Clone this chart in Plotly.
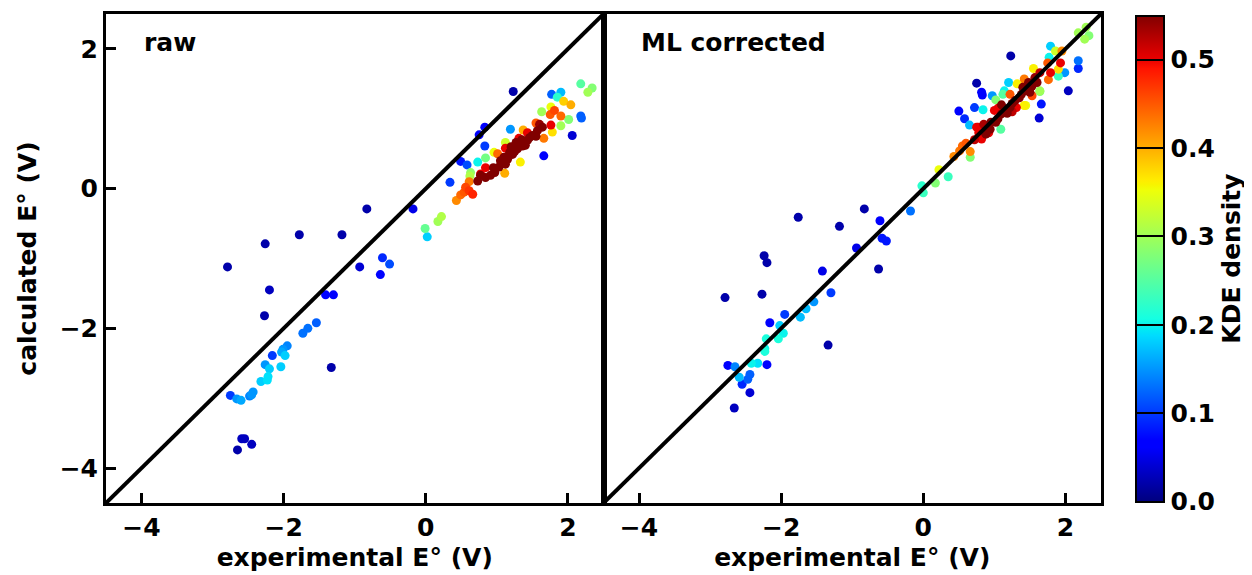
import plotly.graph_objects as go
from plotly.subplots import make_subplots

# raw panel: experimental, calculated, KDE density
raw_x = [-2.79, -2.26, -2.20, -2.27, -1.78, -1.18, -0.83, -0.93, -1.33, -0.18, 1.23, 2.06, 1.66,
         -2.59, -2.55, -2.45, -2.65,
         -1.41, -1.30, -0.61, -0.51, -0.64, -1.73, -1.66, -1.54, -1.95, -2.01, -2.03, -1.98, -2.16,
         -2.26, -2.20, -2.22, -2.23, -2.32, -2.04, -2.43, -2.45, -2.48, -2.75, -2.66, -2.60,
         0.34, 0.49, 0.58, 0.75, 0.83, 0.83, 0.73, 0.84, 0.63, 0.62, -0.01, 0.02, 0.17, 0.22,
         0.43, 0.49, 0.56, 0.61, 0.66, 0.54,
         0.73, 0.77, 0.84, 0.91, 0.97, 1.03, 1.08, 1.15, 1.22, 1.29, 1.36, 1.43, 1.50, 1.57, 1.64,
         1.10, 1.18, 1.25, 1.32, 1.40, 1.46, 1.20, 1.27, 1.05, 0.95, 1.12, 1.35, 1.55, 1.60,
         0.77, 0.84, 1.12, 1.31, 1.43, 1.76,
         1.01, 1.11, 1.55, 1.66, 1.75, 1.81, 1.90, 1.37, 0.61,
         1.33, 1.12, 0.96, 1.78, 1.90, 2.01, 1.63, 1.76, 1.94, 2.04, 1.77, 1.90, 1.85, 2.18, 2.28,
         2.34, 2.18, 2.19, 1.19]
raw_y = [-1.12, -0.79, -1.45, -1.82, -0.66, -0.66, -0.29, -1.12, -2.56, -0.29, 1.39, 0.76, 0.47,
         -3.58, -3.58, -3.66, -3.74,
         -1.52, -1.52, -0.99, -1.08, -1.23, -2.07, -2.00, -1.92, -2.25, -2.30, -2.34, -2.39, -2.39,
         -2.52, -2.58, -2.69, -2.74, -2.76, -2.55, -2.91, -2.95, -2.97, -2.96, -3.01, -3.03,
         0.09, 0.39, 0.34, 0.77, 0.88, 0.61, 0.38, 0.44, 0.23, 0.18, -0.57, -0.69, -0.47, -0.40,
         -0.17, -0.09, 0.02, -0.03, -0.08, -0.05,
         0.11, 0.19, 0.16, 0.19, 0.23, 0.31, 0.38, 0.42, 0.49, 0.57, 0.61, 0.69, 0.76, 0.83, 0.88,
         0.45, 0.52, 0.53, 0.63, 0.62, 0.73, 0.60, 0.66, 0.40, 0.30, 0.35, 0.70, 0.75, 0.92,
         0.21, 0.30, 0.58, 0.72, 0.80, 0.91,
         0.50, 0.22, 0.94, 0.72, 1.06, 1.12, 1.04, 0.84, 0.10,
         0.38, 0.66, 0.52, 0.81, 0.90, 0.99, 1.10, 1.17, 1.25, 1.20, 1.35, 1.38, 1.31, 1.50, 1.38,
         1.44, 1.04, 1.01, 0.85]
raw_d = [0.02, 0.02, 0.03, 0.02, 0.02, 0.02, 0.02, 0.04, 0.02, 0.05, 0.02, 0.04, 0.06,
         0.03, 0.03, 0.03, 0.02,
         0.07, 0.06, 0.09, 0.11, 0.07, 0.13, 0.13, 0.12, 0.14, 0.15, 0.16, 0.18, 0.10,
         0.15, 0.18, 0.19, 0.19, 0.18, 0.18, 0.15, 0.15, 0.14, 0.10, 0.15, 0.16,
         0.10, 0.08, 0.11, 0.07, 0.06, 0.10, 0.20, 0.27, 0.29, 0.31, 0.26, 0.18, 0.30, 0.31,
         0.42, 0.44, 0.46, 0.47, 0.48, 0.45,
         0.55, 0.55, 0.55, 0.55, 0.55, 0.55, 0.55, 0.55, 0.55, 0.55, 0.55, 0.55, 0.55, 0.55, 0.55,
         0.55, 0.55, 0.55, 0.55, 0.55, 0.55, 0.55, 0.55, 0.55, 0.55, 0.55, 0.55, 0.55, 0.54,
         0.50, 0.50, 0.50, 0.50, 0.50, 0.50,
         0.44, 0.40, 0.45, 0.43, 0.45, 0.46, 0.44, 0.40, 0.43,
         0.36, 0.33, 0.35, 0.37, 0.30, 0.28, 0.30, 0.35, 0.38, 0.40, 0.12, 0.17, 0.22, 0.25, 0.30,
         0.28, 0.12, 0.12, 0.15]

# ML corrected panel
ml_x = [-2.24, -2.20, -2.79, -2.27, -1.42, -1.30, -1.34, -1.95, -2.16, -1.73, -1.65, -1.54,
        -2.02, -1.97, -2.04, -2.21, -2.23, -2.23, -2.33, -2.42, -2.20, -2.75, -2.65, -2.59,
        -2.44, -2.47, -2.55, -2.44, -2.66, -0.63, -0.83, -0.61, -0.58, -0.52, -0.94, -0.18,
        -1.76, -1.18,
        -0.02, 0.00, 0.17, 0.22, 0.35,
        0.43, 0.51, 0.55, 0.60, 0.66, 0.66,
        0.72, 0.82, 0.75, 0.85, 0.94, 1.00, 1.10, 1.15, 1.22, 1.29, 1.31, 1.38, 1.45, 1.53, 1.57,
        1.64, 1.22, 1.09, 1.44, 1.53, 1.64, 1.76, 1.79, 1.90, 1.90, 1.99, 2.04, 2.18, 2.18, 1.63,
        1.66, 1.77, 1.86, 1.95, 1.79, 1.75, 1.93, 2.18, 2.27, 2.33, 2.29, 1.23, 0.75, 0.82, 0.83,
        0.97, 1.14, 1.12, 1.02, 1.20, 1.32, 1.42, 0.50, 0.72, 0.84, 0.58, 0.65, 0.77, 0.78, 1.55,
        1.64, 1.42,
        0.88, 0.95, 1.05, 1.10, 1.18, 1.25, 1.35, 1.40, 1.48, 1.60, 1.50, 1.02, 0.92, 1.05, 1.25]
ml_y = [-0.96, -1.06, -1.56, -1.51, -1.18, -1.49, -2.24, -1.80, -1.92, -1.84, -1.72, -1.62,
        -1.96, -2.07, -2.15, -2.15, -2.29, -2.33, -2.50, -2.50, -2.52, -2.53, -2.55, -2.70,
        -2.66, -2.73, -2.80, -2.92, -3.14, -1.15, -0.29, -0.46, -0.71, -0.75, -0.85, -0.32,
        -0.41, -0.54,
        0.04, -0.06, 0.08, 0.27, 0.17,
        0.46, 0.54, 0.61, 0.65, 0.53, 0.45,
        0.70, 0.71, 0.88, 0.92, 0.85, 1.12, 1.07, 1.14, 1.16, 1.26, 1.16, 1.35, 1.40, 1.47, 1.59,
        1.66, 1.35, 0.85, 1.19, 1.33, 1.40, 1.56, 1.66, 1.71, 1.61, 1.66, 1.40, 1.83, 1.72, 1.01,
        1.21, 1.88, 1.97, 1.97, 2.04, 1.80, 1.80, 2.23, 2.14, 2.19, 2.31, 1.90, 1.51, 1.38, 1.34,
        1.33, 1.40, 1.35, 1.27, 1.52, 1.50, 1.57, 1.11, 1.16, 1.13, 1.00, 0.91, 0.88, 0.80, 1.72,
        1.39, 1.19,
        0.78, 0.95, 1.00, 1.20, 1.08, 1.22, 1.30, 1.45, 1.52, 1.52, 1.38, 0.95, 0.80, 1.15, 1.10]
ml_d = [0.02, 0.02, 0.02, 0.02, 0.05, 0.10, 0.02, 0.10, 0.06, 0.17, 0.17, 0.15,
        0.18, 0.20, 0.21, 0.21, 0.20, 0.21, 0.19, 0.20, 0.07, 0.06, 0.14, 0.17,
        0.12, 0.12, 0.09, 0.04, 0.03, 0.02, 0.02, 0.06, 0.08, 0.08, 0.05, 0.13,
        0.02, 0.02,
        0.22, 0.23, 0.28, 0.35, 0.23,
        0.42, 0.43, 0.44, 0.45, 0.42, 0.28,
        0.52, 0.50, 0.50, 0.53, 0.55, 0.50, 0.55, 0.55, 0.55, 0.55, 0.50, 0.55, 0.55, 0.55, 0.54,
        0.52, 0.45, 0.25, 0.35, 0.46, 0.30, 0.44, 0.50, 0.37, 0.23, 0.15, 0.03, 0.13, 0.09, 0.04,
        0.08, 0.20, 0.33, 0.42, 0.18, 0.45, 0.50, 0.30, 0.30, 0.28, 0.30, 0.02, 0.02, 0.06, 0.06,
        0.15, 0.20, 0.25, 0.28, 0.18, 0.36, 0.43, 0.07, 0.10, 0.20, 0.09, 0.17, 0.50, 0.50, 0.36,
        0.28, 0.36,
        0.55, 0.55, 0.55, 0.55, 0.55, 0.55, 0.55, 0.55, 0.55, 0.55, 0.55, 0.55, 0.50, 0.50, 0.52]

panel_titles = ["raw", "ML corrected"]
axis_range = [-4.5, 2.5]
tick_vals = [-4, -2, 0, 2]

# matplotlib-style jet
jet = [[0.0, "rgb(0,0,128)"], [0.11, "rgb(0,0,255)"], [0.125, "rgb(0,0,255)"],
       [0.34, "rgb(0,219,255)"], [0.35, "rgb(0,230,247)"], [0.375, "rgb(21,255,226)"],
       [0.64, "rgb(239,255,8)"], [0.65, "rgb(247,245,0)"], [0.66, "rgb(255,236,0)"],
       [0.89, "rgb(255,19,0)"], [0.91, "rgb(232,0,0)"], [1.0, "rgb(128,0,0)"]]

font = dict(family="DejaVu Sans", size=25, color="black", weight="bold")

fig = make_subplots(rows=1, cols=2, shared_yaxes=True, horizontal_spacing=0)

for col, (xs, ys, ds) in enumerate([(raw_x, raw_y, raw_d), (ml_x, ml_y, ml_d)], start=1):
    order = sorted(range(len(ds)), key=lambda i: ds[i])
    fig.add_trace(go.Scatter(
        x=[xs[i] for i in order], y=[ys[i] for i in order], mode="markers",
        marker=dict(size=9, color=[ds[i] for i in order], coloraxis="coloraxis", line_width=0),
        showlegend=False), row=1, col=col)
    fig.add_trace(go.Scatter(x=axis_range, y=axis_range, mode="lines",
                             line=dict(color="black", width=4), showlegend=False), row=1, col=col)

axis_style = dict(range=axis_range, tickvals=tick_vals, ticks="inside", ticklen=10, tickwidth=2.5,
                  tickcolor="black", showline=True, linewidth=3, linecolor="black", mirror=True,
                  showgrid=False, zeroline=False, tickfont=font)
fig.update_xaxes(**axis_style, title=dict(text="experimental E° (V)", font=font, standoff=8))
fig.update_yaxes(**axis_style)
fig.update_yaxes(title=dict(text="calculated E° (V)", font=font, standoff=16), row=1, col=1)
fig.update_yaxes(ticks="", row=1, col=2)

for k, text in enumerate(panel_titles):
    fig.add_annotation(text=text, xref="paper", yref="paper", x=0.036 + 0.5 * k, y=0.941,
                       xanchor="left", yanchor="middle", showarrow=False, font=font)

# the page body offsets the figure by a few pixels, so it is drawn slightly smaller than the window
fig.update_layout(
    width=1244, height=567, plot_bgcolor="white", paper_bgcolor="white",
    margin=dict(l=98, r=151, t=6, b=72, autoexpand=False),
    coloraxis=dict(colorscale=jet, cmin=0, cmax=0.55,
                   colorbar=dict(x=1.035, xanchor="left", y=0.5, yanchor="middle", len=0.994,
                                 xpad=0, ypad=0, thickness=28, outlinewidth=2, outlinecolor="black",
                                 tickvals=[0, 0.1, 0.2, 0.3, 0.4, 0.5], tickformat=".1f",
                                 ticks="inside", ticklen=28, tickwidth=2, tickcolor="black",
                                 tickfont=font,
                                 title=dict(text="KDE density", side="right", font=font))),
)

fig.write_html("out.html")
